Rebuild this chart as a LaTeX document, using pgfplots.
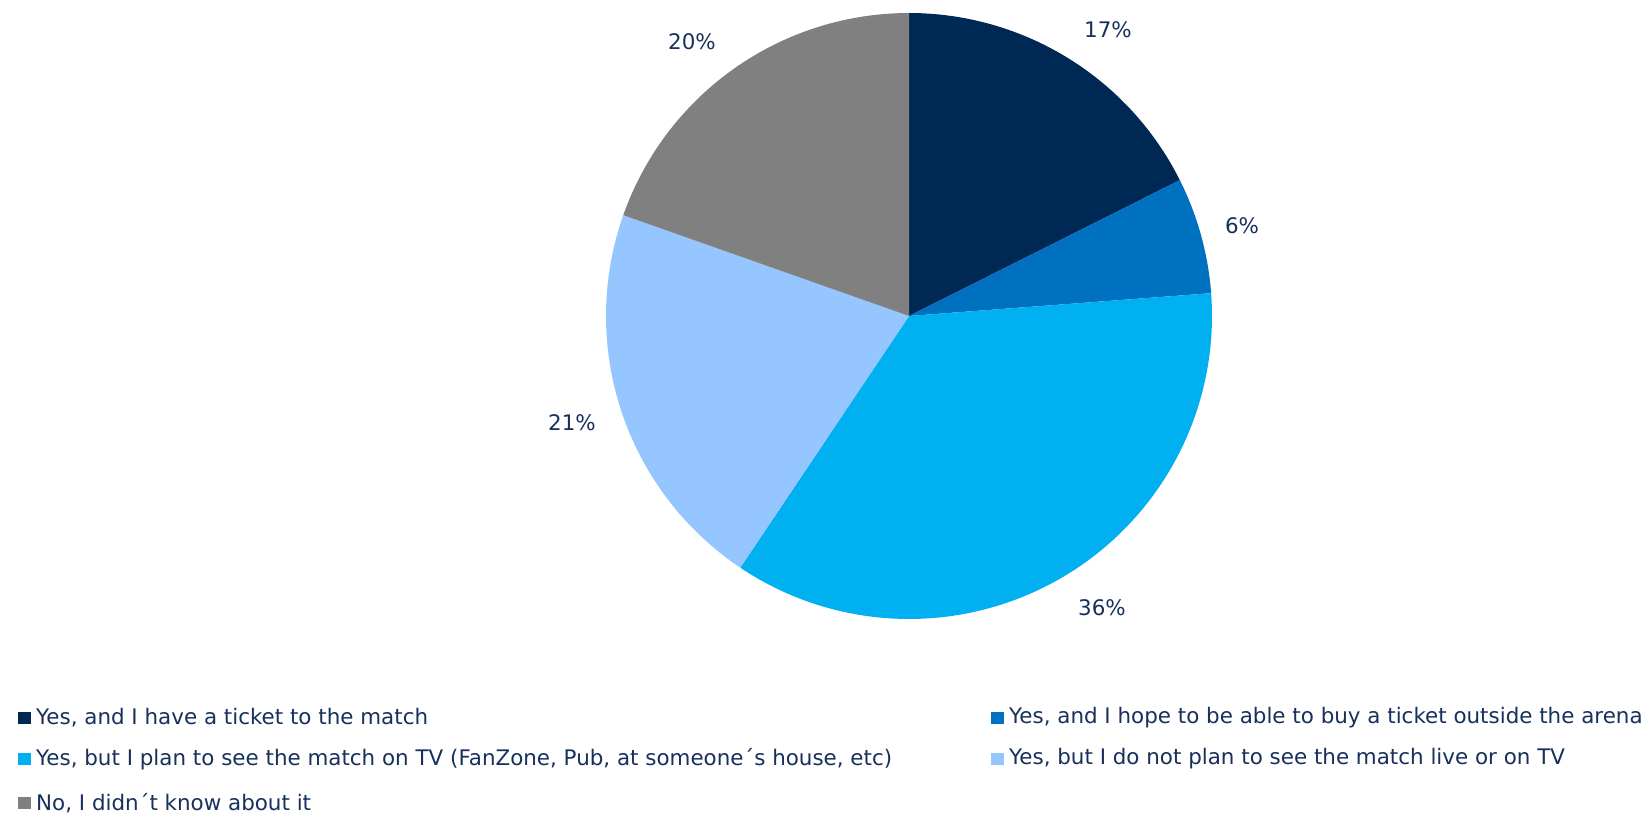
\documentclass[border=0pt]{standalone}
\usepackage{pgfplots}
\pgfplotsset{compat=1.18}
\usepackage{fontspec}
\setmainfont{DejaVu Sans}
\definecolor{c1}{HTML}{002855}
\definecolor{c2}{HTML}{0070C0}
\definecolor{c3}{HTML}{00B0F0}
\definecolor{c4}{HTML}{96C6FF}
\definecolor{c5}{HTML}{808080}
\definecolor{labc}{HTML}{17305C}
\tikzset{lab/.style={text=labc, font=\fontsize{21.5}{25}\selectfont, inner sep=0pt}}
% start percent, end percent, colour, label, label x, label y
\newcommand{\pieslice}[6]{%
  \pgfmathsetmacro\sa{#1*3.6}%
  \pgfmathsetmacro\sb{#2*3.6}%
  \edef\doit{\noexpand\addplot[fill=#3, draw=none, domain=\sa:\sb, samples=120] ({909+303*sin(x)},{501+303*cos(x)}) -- (axis cs:909,501) -- cycle;
  \noexpand\node[lab] at (axis cs:#5,#6) {#4};}%
  \doit
}
\newcommand{\legitem}[4]{%
  \fill[#3] (#1bp,{(#2-6.25)*1bp}) rectangle ({(#1+12.5)*1bp},{(#2+6.25)*1bp});
  \node[lab, anchor=west] at ({(#1+18)*1bp},#2bp) {#4};
}
\begin{document}
\begin{tikzpicture}
\useasboundingbox (0,0) rectangle (1650bp,817bp);
\begin{axis}[
  at={(0,0)}, anchor=origin,
  x=1bp, y=1bp, xmin=0, xmax=1650, ymin=0, ymax=817,
  hide axis, clip=false,
]
% values (percent): 17.6, 6.2, 35.6, 21.0, 19.6
\pieslice{0}{17.6}{c1}{17\%}{1108}{787.5}
\pieslice{17.6}{23.8}{c2}{6\%}{1242}{591}
\pieslice{23.8}{59.4}{c3}{36\%}{1102}{209}
\pieslice{59.4}{80.4}{c4}{21\%}{572}{394}
\pieslice{80.4}{100}{c5}{20\%}{692}{775}
\end{axis}
\legitem{18}{99}{c1}{Yes, and I have a ticket to the match}
\legitem{991}{99}{c2}{Yes, and I hope to be able to buy a ticket outside the arena}
\legitem{18}{58}{c3}{Yes, but I plan to see the match on TV (FanZone, Pub, at someone´s house, etc)}
\legitem{991}{58}{c4}{Yes, but I do not plan to see the match live or on TV}
\legitem{18}{14}{c5}{No, I didn´t know about it}
\end{tikzpicture}
\end{document}
